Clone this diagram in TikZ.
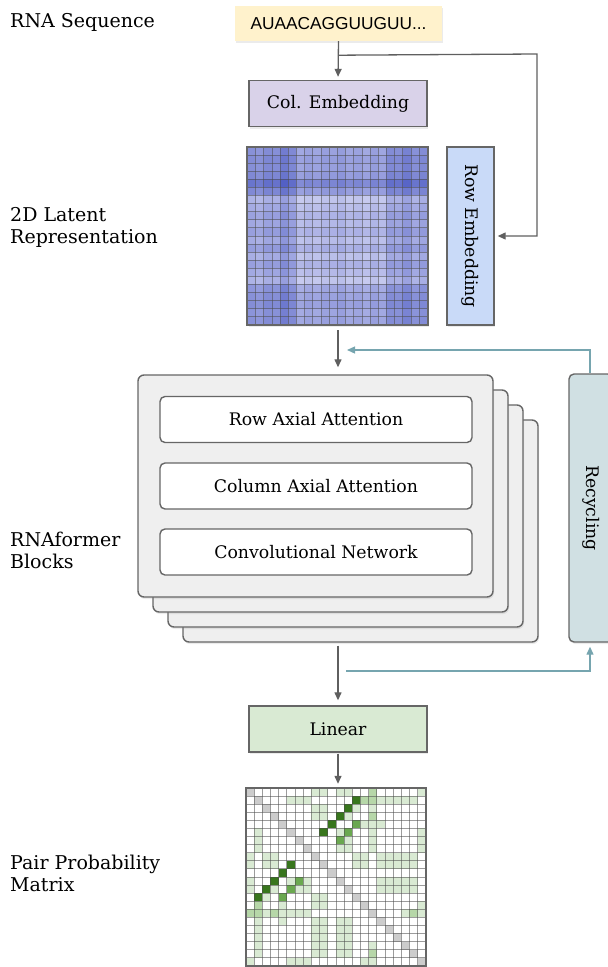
\documentclass[tikz,border=0pt]{standalone}
\usepackage{fontspec}
\setmainfont{DejaVu Serif}
\newfontfamily\seqfont{Liberation Sans}
\usetikzlibrary{arrows.meta,positioning,calc,shadows}
\definecolor{EdgeGray}{HTML}{666666}
\definecolor{ArrowGray}{HTML}{5F5F5F}
\definecolor{RecycTeal}{HTML}{76A5AF}
\definecolor{SeqYellow}{HTML}{FFF2CC}
\definecolor{ColPurple}{HTML}{D9D2E9}
\definecolor{RowBlue}{HTML}{C9DAF8}
\definecolor{BlockGray}{HTML}{EFEFEF}
\definecolor{RecycFill}{HTML}{D0E0E3}
\definecolor{LinGreen}{HTML}{D9EAD3}
\definecolor{LatDark}{HTML}{4A58C2}
\definecolor{LatLight}{HTML}{D8DAF5}
\definecolor{PairLight}{HTML}{D9EAD3}
\definecolor{PairMid}{HTML}{B6D7A8}
\definecolor{PairStrong}{HTML}{6AA84F}
\definecolor{PairDark}{HTML}{38761D}
\definecolor{DiagGray}{HTML}{CCCCCC}
\newcommand{\boxfont}{\fontsize{17.3}{20}\selectfont}
\newcommand{\sidefont}{\fontsize{19}{22}\selectfont}
\def\latrows{{30,34,32,36,52,36,4,10,17,13,19,10,21,8,19,12,4,26,30,33,28,30}}
\def\latcols{{26,22,30,28,42,32,8,13,10,15,13,17,10,13,8,15,10,30,28,38,26,30}}
\newcommand{\pcell}[3]{%
  \fill[#1] ($(pairmat.north west)+(#3*\pcw,#2*\pch)$) rectangle ++(\pcw,\pch);
  \fill[#1] ($(pairmat.north west)+(#2*\pcw,#3*\pch)$) rectangle ++(\pcw,\pch);}

\begin{document}
\begin{tikzpicture}[x=1pt,y=-1pt,
    softshadow/.style={
      drop shadow={opacity=0.16,shadow xshift=1pt,shadow yshift=-2pt}
    },
    seqbox/.style={
      fill=SeqYellow,
      softshadow,
      minimum width=207pt,
      minimum height=35pt,
      inner sep=0pt,
      font=\seqfont\fontsize{17.3}{19}\selectfont
    },
    embbox/.style={
      draw=EdgeGray,
      line width=1.4pt,
      softshadow,
      minimum width=178pt,
      minimum height=46pt,
      inner sep=0pt,
      font=\boxfont
    },
    blockbox/.style={
      draw=EdgeGray,
      fill=BlockGray,
      line width=1.4pt,
      rounded corners=6pt,
      softshadow,
      minimum width=355pt,
      minimum height=222pt
    },
    layerbox/.style={
      draw=EdgeGray,
      fill=white,
      line width=1.4pt,
      rounded corners=5pt,
      minimum width=312pt,
      minimum height=46pt,
      inner sep=0pt,
      font=\boxfont
    },
    recycbox/.style={
      draw=EdgeGray,
      fill=RecycFill,
      line width=1.4pt,
      rounded corners=5pt,
      softshadow,
      rotate=-90,
      minimum width=268pt,
      minimum height=44pt,
      inner sep=0pt,
      font=\boxfont
    },
    matbox/.style={
      fill=white,
      softshadow,
      minimum width=180pt,
      minimum height=178pt,
      inner sep=0pt
    },
    sidelabel/.style={
      anchor=west,
      align=left,
      inner sep=0pt,
      font=\sidefont
    },
    flow/.style={
      -{Triangle[length=8pt,width=7pt]},
      draw=ArrowGray,
      line width=1.3pt
    },
    recflow/.style={
      -{Triangle[length=8pt,width=7pt]},
      draw=RecycTeal,
      line width=1.3pt
    },
    matgrid/.style={draw=black!70,line width=0.6pt,opacity=0.55},
    matframe/.style={draw=EdgeGray,line width=2pt}
  ]
  \useasboundingbox (0,0) rectangle (608,967);

  \node[sidelabel] (lblseq) at (10,22) {RNA Sequence};
  \node[sidelabel] (lbllatent) at (10,227) {2D Latent\\Representation};
  \node[sidelabel] (lblblocks) at (10,550) {RNAformer\\Blocks};
  \node[sidelabel] (lblpair) at (10,873) {Pair Probability\\Matrix};

  \node[seqbox] (seq) at (338.5,23.5) {AUAACAGGUUGUU...};
  \node[embbox,fill=ColPurple] (colemb) at (338,103.5) {Col. Embedding};
  \node[embbox,fill=RowBlue,rotate=-90,minimum width=178pt,minimum height=47pt] (rowemb) at (470.5,236) {Row Embedding};

  \node[matbox] (latent) at (337.5,236) {};
  \pgfmathsetmacro\lcw{180/22}
  \pgfmathsetmacro\lch{178/22}
  \foreach \i in {0,...,21}{
    \foreach \j in {0,...,21}{
      \pgfmathtruncatemacro\lv{min(100,\latrows[\i]+\latcols[\j])}
      \fill[LatDark!\lv!LatLight] ($(latent.north west)+(\j*\lcw,\i*\lch)$) rectangle ++(\lcw,\lch);
    }
  }
  \foreach \k in {1,...,21}{
    \draw[matgrid] ($(latent.north west)+(\k*\lcw,0)$) -- ++(0,178);
    \draw[matgrid] ($(latent.north west)+(0,\k*\lch)$) -- ++(180,0);
  }
  \draw[matframe] (latent.north west) rectangle (latent.south east);

  \coordinate (split) at ($(seq.south)+(0,14)$);
  \coordinate (loopturn) at (537,54);
  \draw[flow,shorten >=3pt] (seq.south) -- (colemb.north);
  \draw[flow,shorten >=3pt] (split) -- (loopturn) |- (rowemb.north);

  \foreach \k in {3,2,1}{
    \node[blockbox] (block\k) at (315.5+15*\k,486+15*\k) {};
  }
  \node[blockbox] (block0) at (315.5,486) {};
  \node[layerbox] (rowatt) at (316,419.5) {Row Axial Attention};
  \node[layerbox] (colatt) at (316,486) {Column Axial Attention};
  \node[layerbox] (convnet) at (316,552) {Convolutional Network};

  \node[recycbox] (recyc) at (591,508) {Recycling};

  \draw[flow,shorten <=5pt,shorten >=7pt] (colemb.south |- latent.south) -- (colemb.south |- block0.north);
  \coordinate (recin) at (347,350);
  \draw[recflow] (recyc.west -| 590,0) |- (recin);

  \node[embbox,fill=LinGreen] (linear) at (338,729) {Linear};
  \draw[flow,shorten <=3pt,shorten >=5pt] (colemb.south |- block3.south) -- (linear.north);
  \coordinate (recout) at (346,671);
  \draw[recflow,shorten >=4pt] (recout) -| (recyc.east -| 590,0);

  \node[matbox] (pairmat) at (336,877) {};
  \pgfmathsetmacro\pcw{180/22}
  \pgfmathsetmacro\pch{178/22}
  \foreach \r/\c in {0/8,0/9,0/11,0/12,0/21,1/5,1/6,1/7,1/16,1/17,1/18,1/19,1/20,
      2/8,2/9,2/13,2/15,3/8,3/9,3/12,4/14,4/15,4/16,5/11,5/15,5/21,6/12,6/15,6/21,
      7/11,7/12,7/15,7/21,8/13,8/14,8/16,8/17,8/18,8/19,8/20,9/13,9/14,9/16,9/17,
      9/18,9/19,9/20,11/16,11/17,11/18,11/19,11/20,12/16,12/17,12/18,12/19,12/20,
      14/21,15/19,15/21}{
    \pcell{PairLight}{\r}{\c}
  }
  \foreach \r/\c in {0/15,1/14,1/15,3/15,15/20}{
    \pcell{PairMid}{\r}{\c}
  }
  \foreach \r/\c in {4/13,5/12,6/11}{
    \pcell{PairStrong}{\r}{\c}
  }
  \foreach \r/\c in {1/13,2/12,3/11,4/10,5/9}{
    \pcell{PairDark}{\r}{\c}
  }
  \foreach \k in {0,...,21}{
    \fill[DiagGray] ($(pairmat.north west)+(\k*\pcw,\k*\pch)$) rectangle ++(\pcw,\pch);
  }
  \foreach \k in {1,...,21}{
    \draw[matgrid] ($(pairmat.north west)+(\k*\pcw,0)$) -- ++(0,178);
    \draw[matgrid] ($(pairmat.north west)+(0,\k*\pch)$) -- ++(180,0);
  }
  \draw[matframe] (pairmat.north west) rectangle (pairmat.south east);
  \draw[flow,shorten <=1pt,shorten >=4pt] (linear.south) -- (linear.south |- pairmat.north);
\end{tikzpicture}
\end{document}
